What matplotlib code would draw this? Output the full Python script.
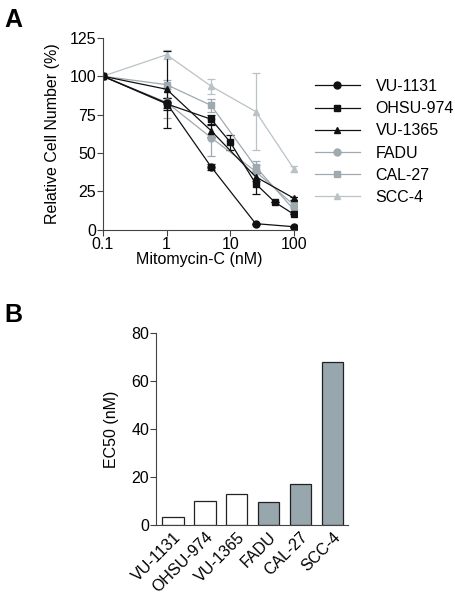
import matplotlib
matplotlib.use("Agg")
import matplotlib.pyplot as plt
from matplotlib.lines import Line2D
import numpy as np

plt.rcParams['font.family'] = ['Liberation Sans', 'DejaVu Sans']

# panel A: dose response
dose = [0.1, 1, 5, 25, 100]
dose_ohsu = [0.1, 1, 5, 10, 25, 50, 100]

vu1131 = [100, 82.5, 41, 4, 2]
vu1131_err = [0, 3, 2, 0, 0]
ohsu974 = [100, 82, 72, 57, 30, 18, 10]
ohsu974_err = [0, 4, 3, 5, 7, 0, 0]
vu1365 = [100, 91.5, 64.5, 34.5, 20.5]
vu1365_err = [0, 25, 4, 3, 1]
fadu = [100, 83, 60, 38, 16]
fadu_err = [0, 10, 12, 4, 2]
cal27 = [100, 94.5, 81, 41, 13]
cal27_err = [0, 3, 4, 4, 2]
scc4 = [100, 114, 93.5, 77, 39.5]
scc4_err = [0, 3, 5, 25, 2]

# panel B: EC50
lines = ['VU-1131', 'OHSU-974', 'VU-1365', 'FADU', 'CAL-27', 'SCC-4']
ec50 = [3.3, 10, 12.9, 9.9, 17.1, 68.1]

dark = '#111111'
mid = '#9eaab0'
light = '#b9c2c6'
axcol = '#444444'
fs = 11.5

fig = plt.figure(figsize=(4.55, 6), dpi=100)

ax = fig.add_axes([0.226, 0.617, 0.426, 0.32])
series = [
    ('VU-1131', dose, vu1131, vu1131_err, 'o', dark),
    ('OHSU-974', dose_ohsu, ohsu974, ohsu974_err, 's', dark),
    ('VU-1365', dose, vu1365, vu1365_err, '^', dark),
    ('FADU', dose, fadu, fadu_err, 'o', mid),
    ('CAL-27', dose, cal27, cal27_err, 's', mid),
    ('SCC-4', dose, scc4, scc4_err, '^', light),
]
for name, x, y, e, m, c in reversed(series):
    ax.errorbar(x, y, yerr=e, marker=m, color=c, markersize=5, linewidth=0.9,
                elinewidth=0.9, capsize=3, capthick=0.9)
handles = [Line2D([], [], marker=m, color=c, markersize=5, linewidth=0.9)
           for name, x, y, e, m, c in series]
ax.set_xscale('log')
ax.set_xlim(0.1, 110)
ax.set_ylim(0, 125)
ax.set_xticks([0.1, 1, 10, 100])
ax.set_xticklabels(['0.1', '1', '10', '100'])
ax.minorticks_off()
ax.set_yticks([0, 25, 50, 75, 100, 125])
ax.set_xlabel('Mitomycin-C (nM)', fontsize=fs, labelpad=0)
ax.set_ylabel('Relative Cell Number (%)', fontsize=fs, labelpad=7)
for s in ['top', 'right']:
    ax.spines[s].set_visible(False)
for s in ['left', 'bottom']:
    ax.spines[s].set_color(axcol)
ax.tick_params(colors=axcol, labelcolor='black', labelsize=fs, length=4, pad=1)
ax.legend(handles, [s[0] for s in series], loc='upper left', bbox_to_anchor=(1.02, 0.86),
          frameon=False, fontsize=fs, handlelength=2.8, labelspacing=0.45, handletextpad=1.0)

# panel B
bx = fig.add_axes([0.343, 0.1245, 0.421, 0.32])
colors = ['white'] * 3 + ['#98a6ad'] * 3
xpos = np.arange(len(lines))
bx.bar(xpos, ec50, width=0.67, color=colors, edgecolor='#222222', linewidth=0.9)
bx.set_xlim(-0.53, 5.48)
bx.set_ylim(0, 80)
bx.set_yticks([0, 20, 40, 60, 80])
bx.set_xticks(xpos)
bx.set_xticklabels(lines, rotation=45, ha='right', rotation_mode='anchor')
bx.set_ylabel('EC50 (nM)', fontsize=fs, labelpad=9)
for s in ['top', 'right']:
    bx.spines[s].set_visible(False)
for s in ['left', 'bottom']:
    bx.spines[s].set_color(axcol)
bx.tick_params(axis='y', colors=axcol, labelcolor='black', labelsize=fs, length=4, pad=1)
bx.tick_params(axis='x', length=0, labelsize=fs, pad=3)

fig.text(0.01, 0.987, 'A', fontsize=18, fontweight='bold', va='top')
fig.text(0.01, 0.495, 'B', fontsize=18, fontweight='bold', va='top')

fig.savefig('out.png', dpi=100)
